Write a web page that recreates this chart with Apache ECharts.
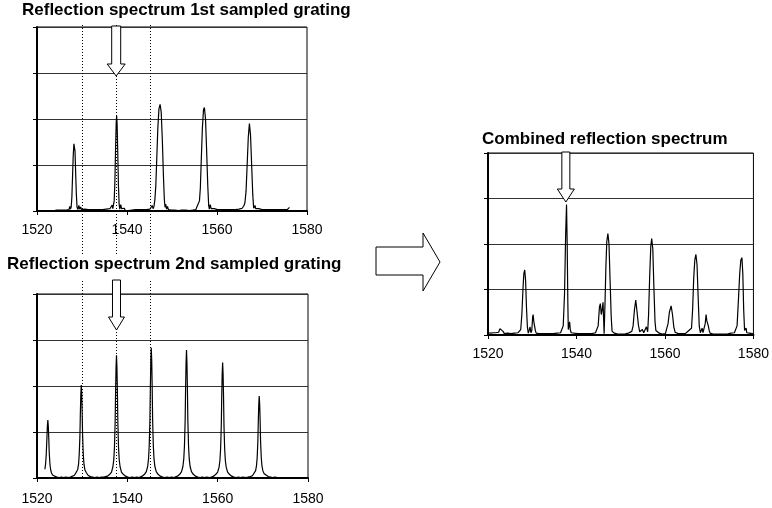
<!DOCTYPE html>
<html>
<head>
<meta charset="utf-8">
<script src="https://cdn.jsdelivr.net/npm/echarts@6/dist/echarts.min.js"></script>
<style>
  html, body { margin: 0; padding: 0; background: #fff; }
  #chart { width: 772px; height: 508px; }
</style>
</head>
<body>
<div id="chart"></div>
<script>
// Wavelength axis ticks (nm)
const wavelengthTicks = [1520, 1540, 1560, 1580];

// Panel titles
const titles = [
  'Reflection spectrum 1st sampled grating',
  'Reflection spectrum 2nd sampled grating',
  'Combined reflection spectrum'
];

// Reference wavelengths marked by dotted guides across both grating panels
const guideWavelengths = [1530.0, 1537.6, 1545.0];
// Wavelength the down arrows point at
const selectedWavelength = 1537.6;

// Reflection spectrum of the 1st sampled grating: [wavelength nm, reflection a.u.]
const grating1 = [
  [1524.1,0.02],[1524.5,0.03],[1524.9,0.02],[1525.3,0.04],[1525.7,0.02],[1526.1,0.03],[1526.5,0.02],[1526.9,0.05],
  [1527.1,0.03],[1527.3,0.10],[1527.45,0.04],
  [1527.6,0.09],[1527.75,0.30],[1527.9,0.75],[1528.05,1.20],[1528.2,1.46],[1528.3,1.50],[1528.45,1.30],[1528.6,0.80],
  [1528.75,0.35],[1528.9,0.08],[1529.1,0.03],[1529.3,0.12],[1529.5,0.04],[1529.7,0.09],[1529.9,0.03],[1530.2,0.02],
  [1530.6,0.04],[1531.0,0.02],[1531.4,0.03],[1531.8,0.01],[1532.2,0.03],[1532.6,0.02],[1533.0,0.03],[1533.4,0.01],
  [1533.8,0.03],[1534.2,0.02],[1534.6,0.03],[1535.0,0.02],[1535.4,0.04],[1535.8,0.02],[1536.2,0.05],[1536.5,0.03],
  [1536.7,0.13],[1536.85,0.05],
  [1537.0,0.08],[1537.15,0.22],[1537.3,0.60],[1537.45,1.30],[1537.6,1.92],[1537.7,2.07],[1537.8,1.90],[1537.95,1.25],
  [1538.1,0.55],[1538.25,0.15],[1538.4,0.04],[1538.6,0.14],[1538.8,0.05],[1539.0,0.09],[1539.2,0.02],[1539.4,0.06],
  [1539.6,0.01],[1539.9,0.03],[1540.3,0.01],[1540.7,0.03],[1541.1,0.02],[1541.5,0.02],[1541.9,0.03],[1542.3,0.01],
  [1542.7,0.03],[1543.1,0.02],[1543.5,0.03],[1543.9,0.01],[1544.3,0.03],[1544.7,0.02],[1545.1,0.04],[1545.4,0.03],
  [1545.6,0.12],[1545.8,0.05],
  [1546.0,0.10],[1546.2,0.25],[1546.4,0.55],[1546.6,1.10],[1546.85,1.80],[1547.1,2.22],[1547.35,2.32],[1547.6,2.15],
  [1547.85,1.55],[1548.1,0.75],[1548.3,0.25],[1548.45,0.08],[1548.6,0.15],[1548.8,0.04],[1549.0,0.10],[1549.2,0.03],
  [1549.5,0.05],[1549.8,0.02],[1550.2,0.03],[1550.6,0.02],[1551.0,0.03],[1551.4,0.01],[1551.8,0.03],[1552.2,0.02],
  [1552.6,0.03],[1553.0,0.02],[1553.4,0.03],[1553.8,0.01],[1554.2,0.03],[1554.6,0.02],[1555.0,0.04],[1555.3,0.03],
  [1555.5,0.08],[1555.7,0.04],
  [1555.9,0.10],[1556.1,0.22],[1556.3,0.50],[1556.5,1.10],[1556.75,1.80],[1557.0,2.20],[1557.2,2.25],[1557.45,2.00],
  [1557.7,1.30],[1557.95,0.55],[1558.15,0.12],[1558.3,0.04],[1558.5,0.14],[1558.7,0.05],[1558.9,0.09],[1559.1,0.03],
  [1559.4,0.05],[1559.7,0.02],[1560.1,0.03],[1560.5,0.02],[1560.9,0.03],[1561.3,0.01],[1561.7,0.03],[1562.1,0.02],
  [1562.5,0.03],[1562.9,0.01],[1563.3,0.03],[1563.7,0.02],[1564.1,0.03],[1564.5,0.02],[1564.9,0.04],[1565.3,0.03],
  [1565.6,0.06],[1565.8,0.04],
  [1566.0,0.12],[1566.2,0.18],[1566.45,0.42],[1566.7,1.00],[1566.95,1.60],[1567.2,1.90],[1567.45,1.65],[1567.7,1.00],
  [1567.95,0.35],[1568.15,0.06],[1568.3,0.05],[1568.45,0.12],[1568.6,0.05],[1568.8,0.08],[1569.0,0.03],[1569.3,0.05],
  [1569.6,0.02],[1570.0,0.03],[1570.4,0.01],[1570.8,0.03],[1571.2,0.02],[1571.6,0.03],[1572.0,0.01],[1572.4,0.03],
  [1572.8,0.02],[1573.2,0.03],[1573.6,0.02],[1574.0,0.03],[1574.4,0.02],[1574.8,0.03],[1575.2,0.02],[1575.6,0.03],
  [1575.9,0.05],[1576.1,0.08]
];

// Reflection spectrum of the 2nd sampled grating
const grating2 = [
  [1521.75,0.19],[1521.9,0.30],[1522.05,0.52],[1522.2,0.88],[1522.3,1.13],[1522.4,1.26],[1522.5,1.13],[1522.6,0.88],
  [1522.7,0.57],[1522.85,0.32],[1523.0,0.19],[1523.2,0.11],[1523.5,0.06],[1523.9,0.04],[1524.4,0.02],[1524.9,0.01],
  [1525.4,0.02],[1525.9,0.01],[1526.4,0.02],[1526.9,0.01],[1527.4,0.02],
  [1527.8,0.03],[1528.3,0.06],[1528.7,0.10],[1529.0,0.18],[1529.2,0.30],[1529.35,0.51],[1529.5,0.91],[1529.6,1.41],
  [1529.7,1.82],[1529.8,2.02],[1529.9,1.82],[1530.0,1.41],[1530.1,0.91],[1530.25,0.51],[1530.4,0.30],[1530.6,0.18],
  [1530.9,0.12],[1531.3,0.06],[1531.8,0.03],
  [1532.3,0.02],[1532.8,0.01],[1533.3,0.02],[1533.8,0.01],[1534.3,0.02],[1534.8,0.02],[1535.2,0.03],
  [1535.6,0.04],[1536.1,0.08],[1536.5,0.13],[1536.8,0.24],[1537.0,0.40],[1537.15,0.67],[1537.3,1.20],[1537.4,1.87],
  [1537.5,2.40],[1537.6,2.67],[1537.7,2.40],[1537.8,1.87],[1537.9,1.20],[1538.05,0.67],[1538.2,0.40],[1538.4,0.24],
  [1538.7,0.13],[1539.1,0.08],[1539.6,0.04],
  [1540.1,0.02],[1540.6,0.01],[1541.1,0.02],[1541.6,0.01],[1542.1,0.02],[1542.6,0.01],[1543.0,0.02],
  [1543.3,0.04],[1543.8,0.08],[1544.2,0.14],[1544.5,0.25],[1544.7,0.42],[1544.85,0.71],[1545.0,1.27],[1545.1,1.98],
  [1545.2,2.55],[1545.3,2.83],[1545.4,2.55],[1545.5,1.98],[1545.6,1.27],[1545.75,0.71],[1545.9,0.42],[1546.1,0.25],
  [1546.4,0.14],[1546.8,0.08],[1547.3,0.04],
  [1547.8,0.02],[1548.3,0.01],[1548.8,0.02],[1549.3,0.01],[1549.8,0.02],[1550.3,0.01],[1550.7,0.02],
  [1551.1,0.04],[1551.6,0.08],[1552.0,0.14],[1552.3,0.25],[1552.5,0.42],[1552.65,0.70],[1552.8,1.25],[1552.9,1.95],
  [1553.0,2.50],[1553.1,2.78],[1553.2,2.50],[1553.3,1.95],[1553.4,1.25],[1553.55,0.70],[1553.7,0.42],[1553.9,0.25],
  [1554.2,0.14],[1554.6,0.08],[1555.1,0.04],
  [1555.6,0.02],[1556.1,0.01],[1556.6,0.02],[1557.1,0.01],[1557.6,0.02],[1558.1,0.01],[1558.6,0.02],
  [1559.1,0.04],[1559.6,0.08],[1560.0,0.13],[1560.3,0.23],[1560.5,0.38],[1560.65,0.63],[1560.8,1.13],[1560.9,1.76],
  [1561.0,2.26],[1561.1,2.51],[1561.2,2.26],[1561.3,1.76],[1561.4,1.13],[1561.55,0.63],[1561.7,0.38],[1561.9,0.23],
  [1562.2,0.13],[1562.6,0.08],[1563.1,0.04],
  [1563.6,0.02],[1564.1,0.01],[1564.6,0.02],[1565.1,0.01],[1565.6,0.02],[1566.1,0.01],[1566.7,0.02],
  [1567.2,0.03],[1567.7,0.05],[1568.1,0.09],[1568.4,0.16],[1568.6,0.27],[1568.75,0.45],[1568.9,0.80],[1569.0,1.25],
  [1569.1,1.60],[1569.2,1.78],[1569.3,1.60],[1569.4,1.25],[1569.5,0.80],[1569.65,0.45],[1569.8,0.27],[1570.0,0.16],
  [1570.3,0.09],[1570.7,0.05],[1571.2,0.03],
  [1571.7,0.02],[1572.2,0.01],[1572.7,0.02],[1573.2,0.01],[1573.6,0.02],[1574.0,0.01]
];

// Combined reflection spectrum of both gratings
const combined = [
  [1520.0,0.05],[1520.3,0.02],[1520.6,0.04],[1520.9,0.02],[1521.2,0.05],[1521.5,0.03],[1521.8,0.05],[1522.1,0.04],
  [1522.4,0.06],[1522.7,0.14],[1522.9,0.10],[1523.1,0.16],[1523.4,0.08],[1523.7,0.03],[1524.0,0.02],[1524.4,0.04],
  [1524.8,0.02],[1525.2,0.03],[1525.6,0.02],[1526.0,0.04],[1526.4,0.03],[1526.8,0.05],[1527.1,0.07],
  [1527.4,0.12],[1527.65,0.45],[1527.9,1.00],[1528.1,1.35],[1528.3,1.43],[1528.5,1.20],[1528.7,0.60],[1528.9,0.18],
  [1529.1,0.04],[1529.3,0.10],[1529.5,0.18],[1529.7,0.05],[1529.9,0.10],[1530.1,0.40],[1530.2,0.45],[1530.35,0.30],
  [1530.5,0.27],[1530.7,0.10],[1530.9,0.04],[1531.2,0.02],[1531.6,0.03],[1532.0,0.02],[1532.4,0.03],[1532.8,0.02],
  [1533.2,0.03],[1533.6,0.02],[1534.0,0.03],[1534.4,0.02],[1534.8,0.03],[1535.2,0.02],[1535.6,0.04],[1536.0,0.03],
  [1536.4,0.05],[1536.7,0.08],[1537.0,0.20],[1537.3,0.90],[1537.55,2.20],[1537.75,2.87],[1537.9,2.00],[1538.05,0.70],
  [1538.15,0.12],[1538.3,0.20],[1538.45,0.29],[1538.6,0.12],[1538.8,0.05],[1539.1,0.03],[1539.5,0.04],[1539.9,0.02],
  [1540.3,0.03],[1540.7,0.02],[1541.1,0.03],[1541.5,0.02],[1541.9,0.03],[1542.3,0.02],[1542.7,0.03],[1543.1,0.02],
  [1543.5,0.03],[1543.9,0.03],[1544.3,0.05],[1544.6,0.07],[1544.9,0.20],[1545.2,0.62],[1545.4,0.69],[1545.6,0.45],
  [1545.8,0.55],[1546.0,0.72],[1546.15,0.30],[1546.25,0.03],
  [1546.45,0.70],[1546.65,1.50],[1546.85,2.05],[1547.1,2.23],[1547.35,2.00],[1547.6,1.20],[1547.85,0.40],[1548.05,0.08],
  [1548.25,0.05],[1548.45,0.10],[1548.6,0.04],[1548.9,0.03],[1549.3,0.02],[1549.7,0.03],[1550.1,0.02],[1550.5,0.03],
  [1550.9,0.02],[1551.3,0.03],[1551.7,0.04],[1552.1,0.05],[1552.5,0.08],[1552.8,0.20],[1553.1,0.55],[1553.4,0.77],
  [1553.7,0.50],[1554.0,0.22],[1554.3,0.07],[1554.6,0.05],[1554.9,0.12],[1555.2,0.05],[1555.5,0.08],[1555.8,0.18],
  [1556.1,0.07],[1556.3,0.45],[1556.55,1.30],[1556.8,1.95],[1557.0,2.12],[1557.25,1.90],[1557.5,1.05],[1557.75,0.30],
  [1557.95,0.10],[1558.15,0.12],[1558.4,0.10],[1558.7,0.04],[1559.0,0.03],[1559.4,0.02],[1559.8,0.04],[1560.1,0.03],
  [1560.4,0.07],[1560.7,0.25],[1561.0,0.50],[1561.4,0.64],[1561.7,0.45],[1562.0,0.18],[1562.3,0.06],[1562.6,0.04],
  [1563.0,0.03],[1563.4,0.05],[1563.8,0.03],[1564.2,0.04],[1564.6,0.03],[1565.0,0.06],[1565.4,0.10],[1565.7,0.06],
  [1566.0,0.15],[1566.25,0.55],[1566.5,1.25],[1566.75,1.65],[1567.0,1.77],[1567.25,1.55],[1567.5,0.85],[1567.75,0.20],
  [1568.0,0.05],[1568.2,0.10],[1568.4,0.15],[1568.6,0.05],[1568.9,0.03],[1569.1,0.25],[1569.3,0.45],[1569.45,0.32],
  [1569.6,0.36],[1569.8,0.20],[1570.0,0.10],[1570.2,0.04],[1570.5,0.03],[1570.9,0.02],[1571.3,0.03],[1571.7,0.02],
  [1572.1,0.03],[1572.5,0.02],[1572.9,0.03],[1573.3,0.02],[1573.7,0.03],[1574.1,0.02],[1574.5,0.03],[1574.9,0.04],
  [1575.3,0.03],[1575.7,0.05],[1576.0,0.08],[1576.3,0.20],[1576.6,0.75],[1576.9,1.35],[1577.15,1.65],[1577.4,1.70],
  [1577.6,1.35],[1577.8,0.55],[1578.0,0.10],[1578.2,0.08],[1578.35,0.15],[1578.5,0.05],[1578.8,0.03],[1579.1,0.04],
  [1579.4,0.02],[1579.7,0.03],[1580.0,0.02]
];

const FONT = '"Liberation Sans", Arial, Helvetica, sans-serif';

const chart = echarts.init(document.getElementById('chart'), null, { renderer: 'canvas' });

function makeX(gridIndex, labelMargin) {
  return {
    gridIndex: gridIndex,
    type: 'value',
    min: wavelengthTicks[0],
    max: wavelengthTicks[wavelengthTicks.length - 1],
    interval: wavelengthTicks[1] - wavelengthTicks[0],
    axisLine: { show: true, onZero: false, lineStyle: { color: '#000', width: 2 } },
    axisTick: { show: true, inside: false, length: 4, lineStyle: { color: '#000', width: 1 } },
    axisLabel: { show: true, color: '#000', fontSize: 14, fontFamily: FONT, margin: labelMargin,
                 formatter: v => String(v) },
    splitLine: { show: false }
  };
}

function makeY(gridIndex) {
  return {
    gridIndex: gridIndex,
    type: 'value',
    min: 0,
    max: 4,
    interval: 1,
    axisLine: { show: true, lineStyle: { color: '#000', width: 2 } },
    axisTick: { show: true, inside: false, length: 4, lineStyle: { color: '#000', width: 1 } },
    axisLabel: { show: false },
    splitLine: { show: true, lineStyle: { color: '#333', width: 1 } }
  };
}

function makeSeries(idx, data) {
  return {
    type: 'line',
    xAxisIndex: idx,
    yAxisIndex: idx,
    data: data,
    showSymbol: false,
    symbol: 'none',
    smooth: false,
    silent: true,
    lineStyle: { color: '#000', width: 1.2 },
    z: 3
  };
}

const titleStyle = { color: '#000', fontSize: 17, fontWeight: 'bold', fontFamily: FONT };

chart.setOption({
  animation: false,
  backgroundColor: '#fff',
  title: [
    { text: titles[0], left: 22, top: 2, padding: 0, textStyle: titleStyle },
    { text: titles[1], left: 7, top: 256, padding: 0, textStyle: titleStyle },
    { text: titles[2], left: 482, top: 131, padding: 0, textStyle: titleStyle }
  ],
  grid: [
    { left: 37, top: 27, width: 270, height: 184, show: true, borderColor: '#000', borderWidth: 1, backgroundColor: 'transparent' },
    { left: 37, top: 294, width: 271, height: 184, show: true, borderColor: '#000', borderWidth: 1, backgroundColor: 'transparent' },
    { left: 488, top: 153, width: 270, height: 182, show: true, borderColor: '#000', borderWidth: 1, backgroundColor: 'transparent' }
  ],
  xAxis: [makeX(0, 12), makeX(1, 14), makeX(2, 12)],
  yAxis: [makeY(0), makeY(1), makeY(2)],
  series: [makeSeries(0, grating1), makeSeries(1, grating2), makeSeries(2, combined)]
});

// Annotation layer: dotted guides, down arrows and the big arrow between the panels
function px(gridIdx, wl) {
  return chart.convertToPixel({ xAxisIndex: gridIdx, yAxisIndex: gridIdx }, [wl, 0])[0];
}

const graphics = [];
const dotted = { stroke: '#000', lineWidth: 1, lineDash: [1, 2] };
guideWavelengths.forEach(wl => {
  const x = Math.round(px(0, wl)) + 0.5;
  graphics.push({ type: 'line', shape: { x1: x, y1: 25, x2: x, y2: 254 }, style: dotted, z: 5, silent: true });
  graphics.push({ type: 'line', shape: { x1: x, y1: 281, x2: x, y2: 477 }, style: dotted, z: 5, silent: true });
});

function downArrow(cx, top, headTop, tip, shaftHalf, headHalf) {
  return {
    type: 'polygon',
    shape: { points: [
      [cx - shaftHalf, top], [cx + shaftHalf, top], [cx + shaftHalf, headTop],
      [cx + headHalf, headTop], [cx, tip], [cx - headHalf, headTop], [cx - shaftHalf, headTop]
    ] },
    style: { fill: '#fff', stroke: '#000', lineWidth: 1 },
    z: 10, silent: true
  };
}

graphics.push(downArrow(px(0, selectedWavelength), 26, 64, 76, 4.5, 9));
graphics.push(downArrow(px(1, selectedWavelength), 280, 317, 330, 4, 8));
graphics.push(downArrow(px(2, selectedWavelength), 152, 189, 202, 4, 8.5));

graphics.push({
  type: 'polygon',
  shape: { points: [[376, 247], [423, 247], [423, 233], [440, 262], [423, 291], [423, 275], [376, 275]] },
  style: { fill: '#fff', stroke: '#000', lineWidth: 1 },
  z: 10, silent: true
});

chart.setOption({ graphic: graphics });
</script>
</body>
</html>
